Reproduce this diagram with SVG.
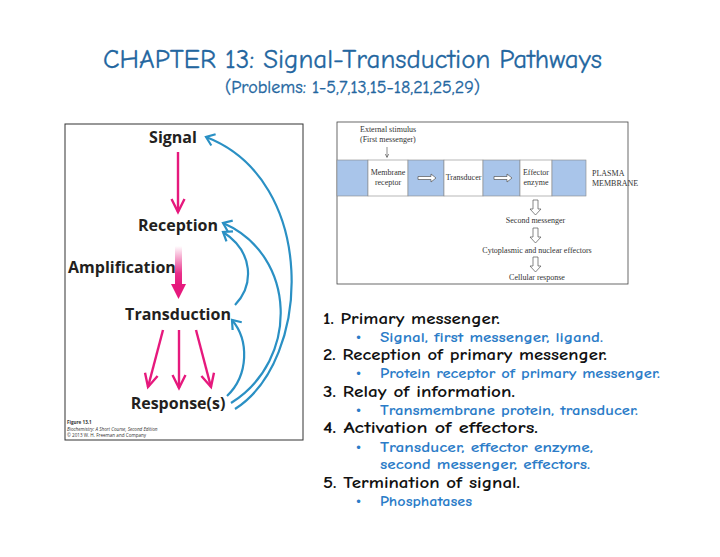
<svg xmlns="http://www.w3.org/2000/svg" width="720" height="557" viewBox="0 0 720 557">
<defs>
<linearGradient id="amp" x1="0" y1="0" x2="0" y2="1">
<stop offset="0" stop-color="#e6197d" stop-opacity="0"/>
<stop offset="0.7" stop-color="#e6197d" stop-opacity="0.9"/>
<stop offset="1" stop-color="#e6197d"/>
</linearGradient>
<marker id="pk" markerWidth="18" markerHeight="16" refX="14" refY="8" orient="auto" markerUnits="userSpaceOnUse"><path d="M1,1.5 L14,8 L1,14.5" fill="none" stroke="#e6197d" stroke-width="2.4"/></marker>
<marker id="bl" markerWidth="14" markerHeight="14" refX="10" refY="7" orient="auto" markerUnits="userSpaceOnUse"><path d="M2,1 L10,7 L2,13" fill="none" stroke="#2a90c4" stroke-width="2.2"/></marker>
</defs>
<style>
.title{font-family:"Comic Neue","Open Sans","DejaVu Sans",sans-serif;fill:#23669f;stroke:#23669f;stroke-width:0.3}
.fig{font-family:"Open Sans","Liberation Sans",sans-serif;font-weight:bold;font-size:16px;fill:#231f20}
.cap{font-family:"Open Sans","Liberation Sans",sans-serif;font-size:4.6px;fill:#333}
.tm{font-family:"Liberation Serif",serif;font-size:8px;fill:#333}
.li{font-family:"Comic Neue","DejaVu Sans",sans-serif;font-weight:bold;font-size:15px;fill:#111}
.sb{font-family:"Comic Neue","DejaVu Sans",sans-serif;font-weight:bold;font-size:13px;fill:#2b7cc8}
.bu{font-family:"DejaVu Sans",sans-serif;font-size:12px;fill:#2b7cc8}
.pink{fill:none;stroke:#e6197d;stroke-width:2.4}
.blue{fill:none;stroke:#2a90c4;stroke-width:2.2}
.mem{fill:#a9c5ea;stroke:#888;stroke-width:0.6}
.memw{fill:#fff;stroke:#888;stroke-width:0.6}
.ha{fill:#fff;stroke:#555;stroke-width:0.7}
</style>
<rect width="720" height="557" fill="#fff"/>
<g id="title">
<text class="title" x="103" y="68" font-size="26" textLength="499" lengthAdjust="spacingAndGlyphs">CHAPTER 13: Signal-Transduction Pathways</text>
<text class="title" x="225" y="93" font-size="17" textLength="255" lengthAdjust="spacingAndGlyphs" stroke-width="0.15">(Problems: 1-5,7,13,15-18,21,25,29)</text>
</g>
<g id="figure-13-1">
<rect x="65" y="124" width="238" height="316" fill="#fff" stroke="#333" stroke-width="1"/>
<g id="signal"><text class="fig" x="173" y="143" text-anchor="middle">Signal</text></g>
<g id="reception"><text class="fig" x="178" y="231" text-anchor="middle">Reception</text></g>
<g id="amplification"><text class="fig" x="68" y="273">Amplification</text></g>
<g id="transduction"><text class="fig" x="178" y="320" text-anchor="middle">Transduction</text></g>
<g id="responses"><text class="fig" x="178" y="409" text-anchor="middle">Response(s)</text></g>
<g id="caption">
<text class="cap" x="67" y="424" font-weight="bold">Figure 13.1</text>
<text class="cap" x="67" y="430.5" font-style="italic">Biochemistry: A Short Course, Second Edition</text>
<text class="cap" x="67" y="437">© 2013 W. H. Freeman and Company</text>
</g>
<g id="fig-connectors">
<line class="pink" x1="178" y1="152" x2="178" y2="212" marker-end="url(#pk)"/>
<rect x="175" y="246" width="7" height="39" fill="url(#amp)"/>
<polygon points="171,284 186,284 178.5,299" fill="#e6197d"/>
<line class="pink" x1="163" y1="330" x2="148" y2="387" marker-end="url(#pk)"/>
<line class="pink" x1="179" y1="330" x2="179" y2="388" marker-end="url(#pk)"/>
<line class="pink" x1="196" y1="330" x2="211" y2="387" marker-end="url(#pk)"/>
<path class="blue" d="M235,409 C312,360 318,180 206,137" marker-end="url(#bl)"/>
<path class="blue" d="M231,403 C300,360 297,255 223,223" marker-end="url(#bl)"/>
<path class="blue" d="M235,305 C254,285 254,252 223,232" marker-end="url(#bl)"/>
<path class="blue" d="M227,396 C249,375 249,340 232,320" marker-end="url(#bl)"/>
</g>
</g>
<g id="membrane-diagram">
<rect x="337" y="122" width="291" height="162" fill="#fff" stroke="#444" stroke-width="0.8"/>
<text class="tm" x="360" y="132">External stimulus</text>
<text class="tm" x="360" y="142">(First messenger)</text>
<line x1="387" y1="147" x2="387" y2="157" stroke="#444" stroke-width="0.6"/>
<path d="M385.3,154 L387,157.5 L388.7,154" fill="none" stroke="#444" stroke-width="0.6"/>
<g id="membrane">
<rect class="mem" x="337" y="160" width="31" height="36"/>
<rect class="memw" x="368" y="160" width="40" height="36"/>
<rect class="mem" x="408" y="160" width="36" height="36"/>
<rect class="memw" x="444" y="160" width="39" height="36"/>
<rect class="mem" x="483" y="160" width="37" height="36"/>
<rect class="memw" x="520" y="160" width="32" height="36"/>
<rect class="mem" x="552" y="160" width="34" height="36"/>
</g>
<g id="membrane-receptor"><text class="tm" x="388" y="175" text-anchor="middle">Membrane</text><text class="tm" x="388" y="185" text-anchor="middle">receptor</text></g>
<g id="transducer"><text class="tm" x="463.5" y="180" text-anchor="middle">Transducer</text></g>
<g id="effector-enzyme"><text class="tm" x="536" y="175" text-anchor="middle">Effector</text><text class="tm" x="536" y="185" text-anchor="middle">enzyme</text></g>
<text class="tm" x="592" y="176" font-size="6">PLASMA</text>
<text class="tm" x="592" y="186" font-size="6">MEMBRANE</text>
<path class="ha" d="M418,176.5 H431 V174 L436,178 L431,182 V179.5 H418 Z"/>
<path class="ha" d="M494,176.5 H507 V174 L512,178 L507,182 V179.5 H494 Z"/>
<path class="ha" d="M533,200 H538 V209 H541 L535.5,215 L530,209 H533 Z"/>
<g id="second-messenger"><text class="tm" x="535.5" y="223" text-anchor="middle">Second messenger</text></g>
<path class="ha" d="M533,228 H538 V237 H541 L535.5,243 L530,237 H533 Z"/>
<g id="effectors"><text class="tm" x="537" y="253" text-anchor="middle">Cytoplasmic and nuclear effectors</text></g>
<path class="ha" d="M533,257 H538 V266 H541 L535.5,272 L530,266 H533 Z"/>
<g id="cellular-response"><text class="tm" x="537" y="280" text-anchor="middle">Cellular response</text></g>
</g>
<g id="list">
<text class="li" x="323" y="324" textLength="177" lengthAdjust="spacingAndGlyphs">1. Primary messenger.</text>
<text class="bu" x="355" y="342">•</text><text class="sb" x="380" y="342" textLength="223" lengthAdjust="spacingAndGlyphs">Signal, first messenger, ligand.</text>
<text class="li" x="323" y="360" textLength="284" lengthAdjust="spacingAndGlyphs">2. Reception of primary messenger.</text>
<text class="bu" x="355" y="378">•</text><text class="sb" x="380" y="378" textLength="280" lengthAdjust="spacingAndGlyphs">Protein receptor of primary messenger.</text>
<text class="li" x="323" y="397" textLength="192" lengthAdjust="spacingAndGlyphs">3. Relay of information.</text>
<text class="bu" x="355" y="415">•</text><text class="sb" x="380" y="415" textLength="258" lengthAdjust="spacingAndGlyphs">Transmembrane protein, transducer.</text>
<text class="li" x="323" y="433" textLength="215" lengthAdjust="spacingAndGlyphs">4. Activation of effectors.</text>
<text class="bu" x="355" y="452">•</text><text class="sb" x="380" y="452" textLength="213" lengthAdjust="spacingAndGlyphs">Transducer, effector enzyme,</text>
<text class="sb" x="380" y="469" textLength="210" lengthAdjust="spacingAndGlyphs">second messenger, effectors.</text>
<text class="li" x="323" y="488" textLength="197" lengthAdjust="spacingAndGlyphs">5. Termination of signal.</text>
<text class="bu" x="355" y="506">•</text><text class="sb" x="380" y="506" textLength="92" lengthAdjust="spacingAndGlyphs">Phosphatases</text>
</g>
</svg>
